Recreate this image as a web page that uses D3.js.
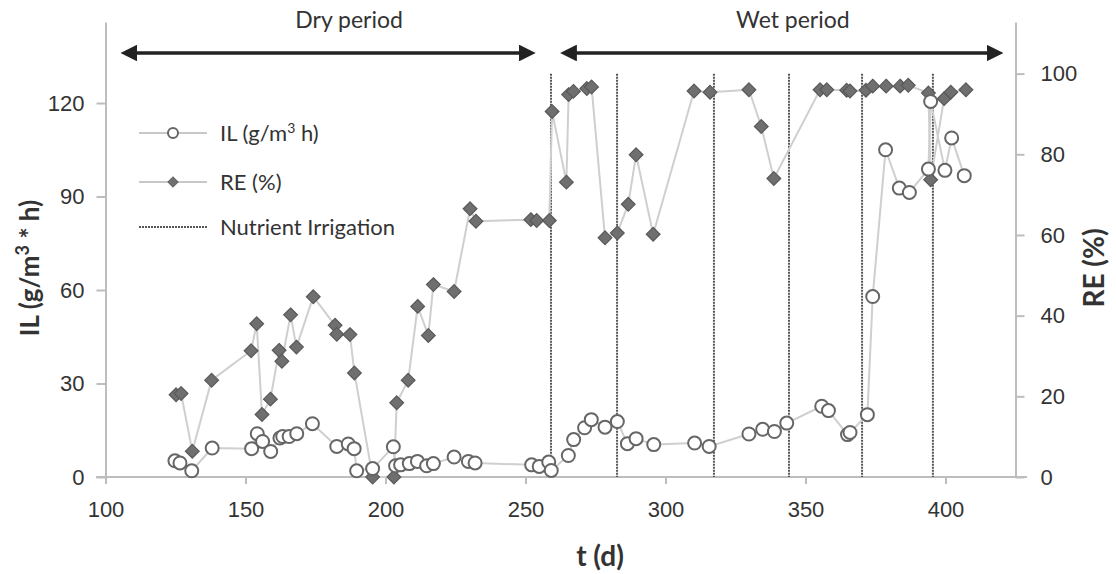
<!DOCTYPE html>
<html>
<head>
<meta charset="utf-8">
<style>
  body { margin: 0; background: #fff; }
  svg { font-family: 'Lato', 'Open Sans', sans-serif; }
  .axis path, .axis line { stroke: #bdbdbd; stroke-width: 2; }
  .axis text { fill: #333; font-size: 22px; }
</style>
</head>
<body>
<svg width="1116" height="574"></svg>
<script src="https://d3js.org/d3.v7.min.js"></script>
<script>
// IL (g/m3 h) readings
const ilDays = [124.8, 126.6, 130.8, 138.1, 152.2, 154.2, 156.1, 159.0, 162.3, 163.3, 165.6, 168.3, 173.9,
  182.6, 186.7, 188.8, 189.7, 195.4, 202.8, 203.6, 205.4, 208.5, 211.4, 214.7, 217.1, 224.5, 229.6, 232.0,
  252.2, 254.9, 258.3, 259.2, 265.3, 267.2, 271.1, 273.5, 278.4, 282.8, 286.4, 289.5, 295.8, 310.4, 315.6,
  329.8, 334.7, 338.9, 343.3, 355.8, 358.2, 365.0, 365.9, 372.1, 374.0, 378.6, 383.5, 387.1, 393.9, 394.7,
  399.8, 402.2, 406.7];
const ilValues = [5.2, 4.5, 2.0, 9.3, 9.1, 13.9, 11.4, 8.2, 12.5, 13.0, 13.0, 13.9, 17.1,
  9.8, 10.6, 9.1, 2.0, 2.7, 9.7, 3.6, 3.9, 4.3, 5.0, 3.6, 4.3, 6.4, 5.0, 4.5,
  3.9, 3.4, 4.8, 2.1, 6.9, 12.0, 15.8, 18.4, 16.0, 17.8, 10.7, 12.3, 10.4, 10.9, 9.8,
  13.8, 15.3, 14.6, 17.3, 22.7, 21.3, 13.6, 14.3, 20.0, 57.9, 105, 92.7, 91.3, 98.8, 120.5,
  98.4, 108.8, 96.7];

// RE (%) readings
const reDays = [125.2, 127.0, 131.0, 137.9, 152.0, 154.0, 155.9, 158.9, 162.0, 163.0, 166.1, 168.2, 174.2,
  182.0, 182.6, 187.3, 188.9, 195.4, 203.0, 204.0, 208.1, 211.5, 215.3, 217.1, 224.5, 230.2, 232.3,
  251.9, 254.0, 258.5, 259.5, 264.6, 265.4, 267.1, 271.9, 273.6, 278.4, 282.8, 286.7, 289.5, 295.6,
  310.2, 315.9, 329.8, 334.2, 338.7, 355.2, 357.6, 364.7, 365.9, 371.6, 374.0, 378.8, 383.8, 386.7,
  393.9, 394.7, 399.5, 401.9, 407.3];
const reValues = [20.4, 20.7, 6.4, 24.0, 31.3, 38.0, 15.5, 19.3, 31.4, 28.7, 40.2, 32.2, 44.7,
  37.6, 35.4, 35.3, 25.8, 0, 0, 18.4, 24.0, 42.3, 35.1, 47.7, 46.0, 66.5, 63.4,
  63.8, 63.6, 63.6, 90.6, 73.1, 94.8, 95.6, 96.3, 96.7, 59.3, 60.5, 67.6, 79.9, 60.2,
  95.7, 95.4, 96.0, 86.9, 74.0, 96.0, 96.0, 95.9, 95.7, 95.9, 96.9, 96.9, 96.9, 97.1,
  95.2, 73.7, 93.8, 95.4, 96.0];

// nutrient irrigation events (days)
const irrigationDays = [259.1, 282.7, 317.3, 344.1, 370.2, 395.5];

const xTicks = [100, 150, 200, 250, 300, 350, 400];
const ilTicks = [0, 30, 60, 90, 120];
const reTicks = [0, 20, 40, 60, 80, 100];

const periods = [
  { label: "Dry period", from: 105.5, to: 253.5, mid: 187 },
  { label: "Wet period", from: 262.5, to: 420.5, mid: 345.5 }
];

const il = ilDays.map((d, i) => ({ t: d, v: ilValues[i] }));
const re = reDays.map((d, i) => ({ t: d, v: reValues[i] }));

const svg = d3.select("svg");

const x = d3.scaleLinear().domain([100, 425]).range([105.5, 1015.5]);
const yL = d3.scaleLinear().domain([0, 146]).range([477, 22]);
const yR = d3.scaleLinear().domain([0, 112.8]).range([477, 22]);

// axes
svg.append("line")
  .attr("x1", 96).attr("x2", 1027)
  .attr("y1", 477).attr("y2", 477)
  .style("stroke", "#bdbdbd").style("stroke-width", 2);

const xAxis = svg.append("g").attr("class", "axis")
  .attr("transform", "translate(0,477)")
  .call(d3.axisBottom(x).tickValues(xTicks).tickSize(7).tickSizeOuter(0).tickPadding(17));
xAxis.select(".domain").remove();

const leftAxis = svg.append("g").attr("class", "axis")
  .attr("transform", "translate(105.5,0)")
  .call(d3.axisLeft(yL).tickValues(ilTicks).tickSize(9).tickSizeOuter(0).tickPadding(12));

const rightAxis = svg.append("g").attr("class", "axis")
  .attr("transform", "translate(1015.5,0)")
  .call(d3.axisRight(yR).tickValues(reTicks).tickSize(9).tickSizeOuter(0).tickPadding(16));

// axis titles
svg.append("text")
  .attr("transform", "translate(39,268) rotate(-90)")
  .attr("text-anchor", "middle")
  .style("font-size", "26px").style("font-weight", "bold").style("fill", "#333")
  .html('IL (g/m<tspan dy="-10" font-size="18px">3</tspan><tspan dy="10"> * h)</tspan>');

svg.append("text")
  .attr("transform", "translate(1104,268) rotate(-90)")
  .attr("text-anchor", "middle")
  .style("font-size", "28px").style("font-weight", "bold").style("fill", "#333")
  .text("RE (%)");

svg.append("text")
  .attr("x", 600).attr("y", 566)
  .attr("text-anchor", "middle")
  .style("font-size", "28px").style("font-weight", "bold").style("fill", "#333")
  .text("t (d)");

// nutrient irrigation lines
svg.selectAll(".irr")
  .data(irrigationDays)
  .join("line")
  .attr("class", "irr")
  .attr("x1", d => x(d)).attr("x2", d => x(d))
  .attr("y1", yR(100)).attr("y2", yR(0))
  .style("stroke", "#555")
  .style("stroke-width", 2)
  .style("stroke-dasharray", "2,1");

// series lines
const ilLine = d3.line().x(d => x(d.t)).y(d => yL(d.v));
const reLine = d3.line().x(d => x(d.t)).y(d => yR(d.v));

svg.append("path").attr("d", ilLine(il))
  .style("fill", "none").style("stroke", "#cfcfcf").style("stroke-width", 2);
svg.append("path").attr("d", reLine(re))
  .style("fill", "none").style("stroke", "#cfcfcf").style("stroke-width", 2);

const diamond = d3.symbol().type(d3.symbolDiamond2).size(120);

svg.selectAll(".re")
  .data(re)
  .join("path")
  .attr("class", "re")
  .attr("d", diamond)
  .attr("transform", d => "translate(" + x(d.t) + "," + yR(d.v) + ")")
  .style("fill", "#6f6f6f")
  .style("stroke", "#595959")
  .style("stroke-width", 1.2);

svg.selectAll(".il")
  .data(il)
  .join("circle")
  .attr("class", "il")
  .attr("cx", d => x(d.t))
  .attr("cy", d => yL(d.v))
  .attr("r", 6.5)
  .style("fill", "white")
  .style("stroke", "#666")
  .style("stroke-width", 2);

// period arrows
const defs = svg.append("defs");
["start", "end"].forEach(k => {
  defs.append("marker")
    .attr("id", "arrow-" + k)
    .attr("viewBox", "0 0 10 10")
    .attr("refX", 5).attr("refY", 5)
    .attr("markerWidth", 4.8).attr("markerHeight", 4.8)
    .attr("orient", k == "end" ? "auto" : "auto-start-reverse")
    .append("path")
    .attr("d", "M0,0 L10,5 L0,10 z")
    .style("fill", "#222");
});

svg.selectAll(".period")
  .data(periods)
  .join("line")
  .attr("class", "period")
  .attr("x1", d => x(d.from) + 8).attr("x2", d => x(d.to) - 8)
  .attr("y1", 53).attr("y2", 53)
  .style("stroke", "#222").style("stroke-width", 3.5)
  .attr("marker-start", "url(#arrow-start)")
  .attr("marker-end", "url(#arrow-end)");

svg.selectAll(".period-label")
  .data(periods)
  .join("text")
  .attr("class", "period-label")
  .attr("x", d => x(d.mid))
  .attr("y", 28)
  .attr("text-anchor", "middle")
  .style("font-size", "23px").style("fill", "#333")
  .text(d => d.label);

// legend
const legend = svg.append("g").attr("transform", "translate(139,0)");

legend.append("line").attr("x1", 0).attr("x2", 68).attr("y1", 133).attr("y2", 133)
  .style("stroke", "#c8c8c8").style("stroke-width", 2);
legend.append("circle").attr("cx", 34).attr("cy", 133).attr("r", 5)
  .style("fill", "white").style("stroke", "#666").style("stroke-width", 2);
legend.append("text").attr("x", 81).attr("y", 141)
  .style("font-size", "22px").style("fill", "#333")
  .html('IL (g/m<tspan dy="-8" font-size="14px">3</tspan><tspan dy="8"> h)</tspan>');

legend.append("line").attr("x1", 0).attr("x2", 68).attr("y1", 182).attr("y2", 182)
  .style("stroke", "#c8c8c8").style("stroke-width", 2);
legend.append("path").attr("d", d3.symbol().type(d3.symbolDiamond2).size(70))
  .attr("transform", "translate(34,182)")
  .style("fill", "#6f6f6f").style("stroke", "#595959");
legend.append("text").attr("x", 81).attr("y", 190)
  .style("font-size", "22px").style("fill", "#333")
  .text("RE (%)");

legend.append("line").attr("x1", 0).attr("x2", 68).attr("y1", 227).attr("y2", 227)
  .style("stroke", "#555").style("stroke-width", 2).style("stroke-dasharray", "2,1");
legend.append("text").attr("x", 81).attr("y", 235)
  .style("font-size", "22px").style("fill", "#333")
  .text("Nutrient Irrigation");
</script>
</body>
</html>
